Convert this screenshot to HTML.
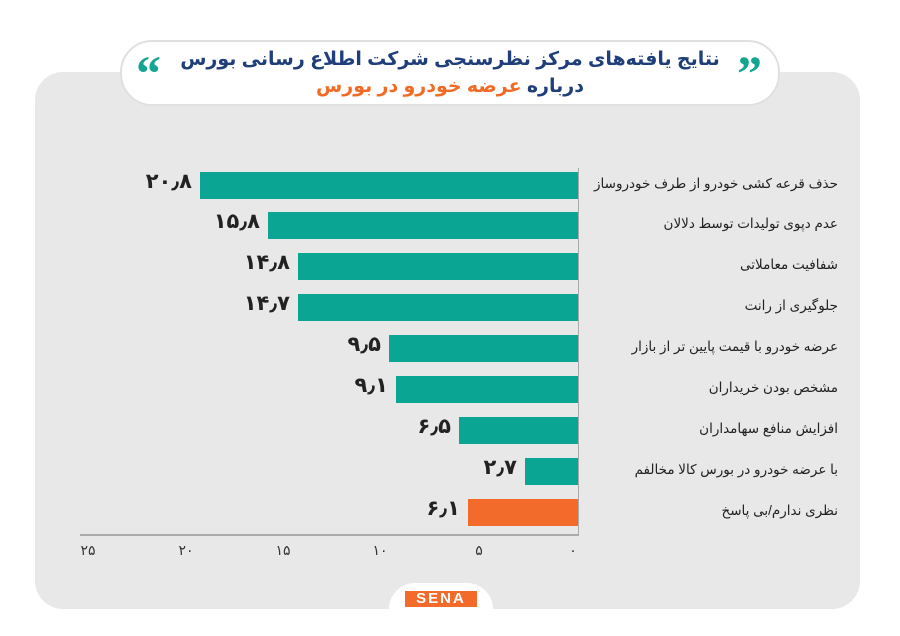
<!DOCTYPE html>
<html><head><meta charset="utf-8"><style>
body{margin:0;width:900px;height:636px;background:#fff;position:relative;overflow:hidden;font-family:"Liberation Sans","DejaVu Sans",sans-serif}
.panel{position:absolute;left:35px;top:72px;width:825px;height:537px;background:#e9e8e9;border-radius:28px}
.head{position:absolute;left:120px;top:40px;width:656px;height:62px;background:#fff;border:2px solid #e0e0e0;border-radius:32px;text-align:center;direction:rtl}
.t1{position:absolute;left:0;right:0;top:6px;font-size:19px;font-weight:bold;color:#1f3e7a;white-space:nowrap}
.t2{position:absolute;left:0;right:0;top:33px;font-size:19px;font-weight:bold;color:#1f3e7a;white-space:nowrap}
.q{position:absolute;top:6px;font-size:50px;font-weight:bold;color:#13a58f;font-family:"Liberation Serif",serif;line-height:1}
.bar{position:absolute;height:27px;background:#0ba693}
.val{position:absolute;font-size:21px;font-weight:bold;color:#222;direction:rtl;text-align:right;width:80px}
.lab{position:absolute;left:538px;width:300px;font-size:13.5px;letter-spacing:-0.2px;color:#222;direction:rtl;text-align:right;white-space:nowrap}
.tick{position:absolute;top:542px;font-size:14px;color:#333;width:30px;text-align:center}
</style></head><body>
<div class="panel"></div>
<div class="head">
<div class="q" style="right:16px">&#8221;</div>
<div class="q" style="left:14px">&#8220;</div>
<div class="t1">نتایج یافته‌های مرکز نظرسنجی شرکت اطلاع رسانی بورس</div>
<div class="t2">درباره <span style="color:#f26b26">عرضه خودرو در بورس</span></div>
</div>
<div style="position:absolute;left:578px;top:168px;width:1px;height:367px;background:#aaa"></div>
<div style="position:absolute;left:80px;top:534px;width:499px;height:2px;background:#aaa"></div>

<div class="bar" style="left:200px;top:172px;width:378px"></div>
<div class="bar" style="left:268px;top:212px;width:310px"></div>
<div class="bar" style="left:298px;top:253px;width:280px"></div>
<div class="bar" style="left:298px;top:294px;width:280px"></div>
<div class="bar" style="left:389px;top:335px;width:189px"></div>
<div class="bar" style="left:396px;top:376px;width:182px"></div>
<div class="bar" style="left:459px;top:417px;width:119px"></div>
<div class="bar" style="left:525px;top:458px;width:53px"></div>
<div class="bar" style="left:468px;top:499px;width:110px;background:#f26b2a"></div>

<div class="val" style="left:112px;top:169px">۲۰٫۸</div>
<div class="val" style="left:180px;top:209px">۱۵٫۸</div>
<div class="val" style="left:210px;top:250px">۱۴٫۸</div>
<div class="val" style="left:210px;top:291px">۱۴٫۷</div>
<div class="val" style="left:301px;top:332px">۹٫۵</div>
<div class="val" style="left:308px;top:373px">۹٫۱</div>
<div class="val" style="left:371px;top:414px">۶٫۵</div>
<div class="val" style="left:437px;top:455px">۲٫۷</div>
<div class="val" style="left:380px;top:496px">۶٫۱</div>

<div class="lab" style="top:176px">حذف قرعه کشی خودرو از طرف خودروساز</div>
<div class="lab" style="top:216px">عدم دپوی تولیدات توسط دلالان</div>
<div class="lab" style="top:257px">شفافیت معاملاتی</div>
<div class="lab" style="top:298px">جلوگیری از رانت</div>
<div class="lab" style="top:339px">عرضه خودرو با قیمت پایین تر از بازار</div>
<div class="lab" style="top:380px">مشخص بودن خریداران</div>
<div class="lab" style="top:421px">افزایش منافع سهامداران</div>
<div class="lab" style="top:462px">با عرضه خودرو در بورس کالا مخالفم</div>
<div class="lab" style="top:503px">نظری ندارم/بی پاسخ</div>

<div class="tick" style="left:73px">۲۵</div>
<div class="tick" style="left:171px">۲۰</div>
<div class="tick" style="left:268px">۱۵</div>
<div class="tick" style="left:365px">۱۰</div>
<div class="tick" style="left:464px">۵</div>
<div class="tick" style="left:558px">۰</div>

<div style="position:absolute;left:389px;top:583px;width:104px;height:53px;background:#fff;border-radius:26px 26px 0 0"></div>
<div style="position:absolute;left:405px;top:591px;width:72px;height:16px;background:#f26b2a;color:#fff;font-weight:bold;font-size:15px;line-height:16px;text-align:center;letter-spacing:2px">SENA</div>
</body></html>
